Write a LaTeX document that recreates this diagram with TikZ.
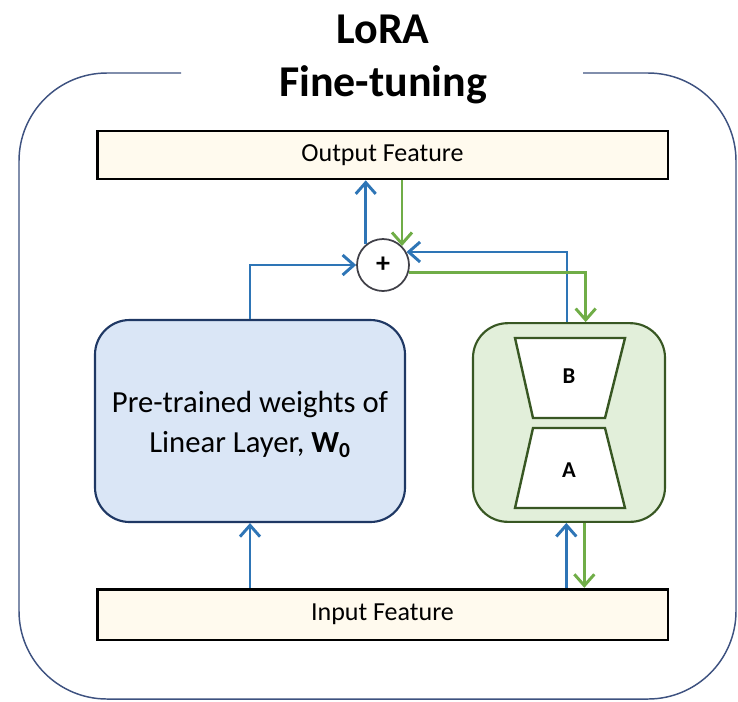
\documentclass[tikz,border=0pt]{standalone}
\usepackage{fontspec}
\setmainfont{Carlito}
\usepackage{tikz}
\usetikzlibrary{
    arrows.meta,
    positioning
}

\definecolor{framegray}{RGB}{62,82,128}
\definecolor{circlegray}{RGB}{64,64,72}
\definecolor{arrowblue}{RGB}{46,117,182}
\definecolor{arrowgreen}{RGB}{112,173,71}
\definecolor{creamfill}{RGB}{255,250,238}
\definecolor{weightfill}{RGB}{218,230,246}
\definecolor{weightline}{RGB}{31,56,100}
\definecolor{lorafill}{RGB}{226,239,218}
\definecolor{loraline}{RGB}{56,87,35}

\tikzset{
    feature/.style={draw=black, line width=2pt, fill=creamfill,
        minimum width=428pt, font=\fontsize{19.5}{23}\selectfont},
    bluearr/.style={arrowblue, line width=2.2pt,
        -{Straight Barb[length=8.5pt, width=15pt, line width=2.2pt]}},
    greenarr/.style={arrowgreen, line width=2.2pt,
        -{Straight Barb[length=8.5pt, width=15pt, line width=2.2pt]}},
    trap/.style={draw=loraline, line width=1.8pt, fill=white},
    letter/.style={font=\fontsize{17}{20}\selectfont\bfseries}
}

\begin{document}
\begin{tikzpicture}[x=0.75pt, y=-0.75pt]
    \useasboundingbox (0,0) rectangle (738,701);

    % outer frame with a gap for the title
    \draw[framegray, line width=1.1pt, rounded corners=66pt]
        (181,73) -- (19,73) -- (19,699) -- (736,699) -- (736,73) -- (583,73);

    \node[font=\fontsize{33}{40}\selectfont\bfseries, anchor=base] (title1) at (383,43) {LoRA};
    \node[font=\fontsize{33}{40}\selectfont\bfseries, anchor=base] (title2) at (383,96) {Fine-tuning};

    \node[feature, minimum height=36pt] (out) at (382.5,155) {Output Feature};
    \node[feature, minimum height=38pt] (in) at (382.5,614.5) {Input Feature};

    \node[draw=weightline, line width=1.6pt, fill=weightfill, rounded corners=26pt,
        minimum width=232.5pt, minimum height=151.5pt] (w0) at (250,421) {};
    \node[align=center, font=\fontsize{23}{30}\selectfont] (w0label) at (250,424)
        {Pre-trained weights of\\Linear Layer, \textbf{W\textsubscript{0}}};

    \node[draw=loraline, line width=1.6pt, fill=lorafill, rounded corners=26pt,
        minimum width=144pt, minimum height=149pt] (lora) at (569,422.5) {};
    \draw[trap] (515,338) -- (625,338) -- (605,418) -- (533,418) -- cycle;
    \draw[trap] (533,428) -- (605,428) -- (625,508) -- (515,508) -- cycle;
    \node[letter] (nb) at (569,376) {B};
    \node[letter] (na) at (569,470) {A};

    \node[draw=circlegray, line width=1.3pt, circle, fill=white, minimum size=39pt,
        inner sep=0pt, font=\fontsize{21}{24}\selectfont\bfseries] (plus) at (383,265) {+};

    \draw[bluearr] (w0.north) |- (plus.west);
    \draw[bluearr] (plus.130) -- (plus.130 |- out.south);
    \draw[greenarr] (plus.45 |- out.south) -- (plus.45);
    \draw[bluearr] ([xshift=-1.5pt]lora.north) |- (plus.29);
    \draw[greenarr] (plus.-16) -| ([xshift=12.5pt]lora.north);

    \draw[bluearr] (w0.south |- in.north) -- (w0.south);
    \draw[bluearr] ([xshift=-2pt]lora.south |- in.north) -- ([xshift=-2pt]lora.south);
    \draw[greenarr] ([xshift=11.5pt]lora.south) -- ([xshift=11.5pt]lora.south |- in.north);
\end{tikzpicture}
\end{document}
